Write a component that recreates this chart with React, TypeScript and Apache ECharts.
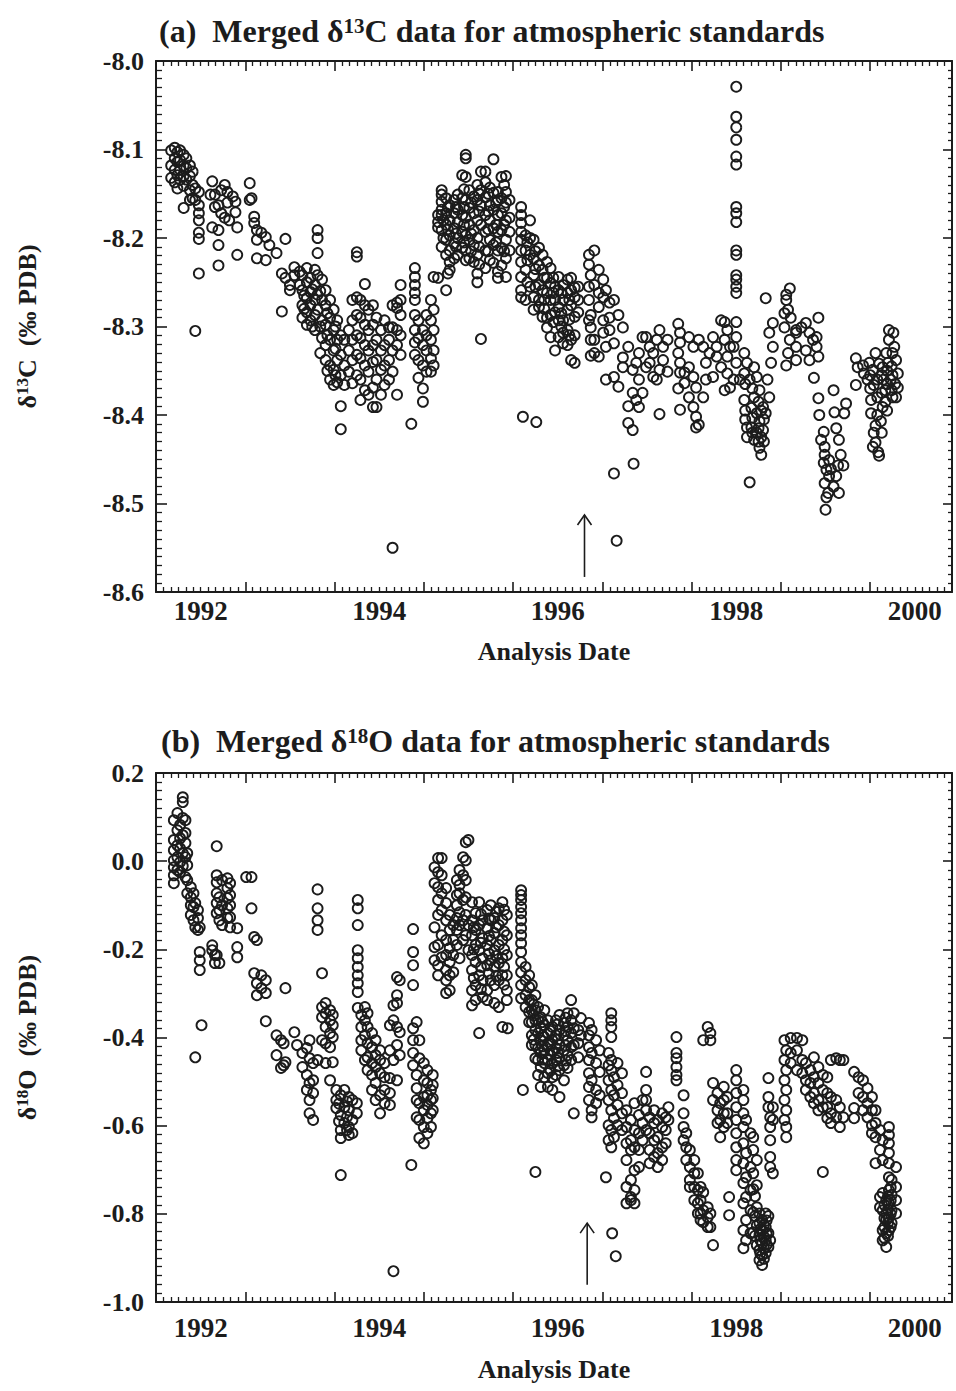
import { useEffect, useRef } from 'react';
import * as echarts from 'echarts';

// Each column: [analysis date (decimal year), measured values at that date]
type Column = [number, number[]];

// ---- (a) merged δ13C (‰ PDB) ----
const c13_1992: Column[] = [
  [1992.17, [-8.101, -8.118, -8.132]],
  [1992.21, [-8.098, -8.110, -8.123, -8.137]],
  [1992.24, [-8.103, -8.114, -8.129, -8.144]],
  [1992.27, [-8.101, -8.112, -8.123, -8.134]],
  [1992.31, [-8.106, -8.118, -8.130, -8.141, -8.166]],
  [1992.34, [-8.110, -8.121, -8.134]],
  [1992.38, [-8.118, -8.130, -8.146, -8.157]],
  [1992.41, [-8.125, -8.140, -8.155]],
  [1992.44, [-8.144, -8.157, -8.305]],
  [1992.48, [-8.148, -8.163, -8.172, -8.180, -8.194, -8.201, -8.240]],
  [1992.61, [-8.151]],
  [1992.63, [-8.136, -8.188]],
  [1992.66, [-8.151, -8.165]],
  [1992.70, [-8.163, -8.191, -8.208, -8.231]],
  [1992.73, [-8.146, -8.172]],
  [1992.77, [-8.140, -8.177]],
  [1992.80, [-8.148, -8.160]],
  [1992.82, [-8.180]],
  [1992.86, [-8.153]],
  [1992.89, [-8.159, -8.171]],
  [1992.91, [-8.188, -8.219]],
];
const c13_1993: Column[] = [
  [1993.05, [-8.138, -8.157]],
  [1993.07, [-8.155]],
  [1993.10, [-8.176, -8.183]],
  [1993.13, [-8.191, -8.202, -8.223]],
  [1993.18, [-8.194]],
  [1993.23, [-8.199, -8.225]],
  [1993.27, [-8.208]],
  [1993.35, [-8.217]],
  [1993.41, [-8.240, -8.283]],
  [1993.45, [-8.201, -8.245]],
  [1993.50, [-8.253, -8.259]],
  [1993.55, [-8.233, -8.242]],
  [1993.61, [-8.238, -8.253]],
  [1993.64, [-8.242, -8.259, -8.276, -8.290]],
  [1993.66, [-8.265, -8.280]],
  [1993.69, [-8.234, -8.250, -8.268, -8.284, -8.298]],
  [1993.73, [-8.245, -8.261, -8.276, -8.293]],
  [1993.75, [-8.258, -8.300]],
  [1993.78, [-8.236, -8.253, -8.270, -8.287, -8.304]],
  [1993.81, [-8.191, -8.200, -8.217, -8.242, -8.264, -8.281]],
  [1993.84, [-8.260, -8.300, -8.330]],
  [1993.86, [-8.247, -8.270, -8.293, -8.313]],
  [1993.90, [-8.259, -8.276, -8.298, -8.321, -8.338]],
  [1993.92, [-8.285, -8.310, -8.350]],
  [1993.95, [-8.270, -8.290, -8.315, -8.344, -8.360]],
  [1993.99, [-8.281, -8.304, -8.327, -8.349, -8.366]],
];
const c13_1994: Column[] = [
  [1994.01, [-8.300, -8.325, -8.355]],
  [1994.03, [-8.293, -8.315, -8.338, -8.363]],
  [1994.07, [-8.310, -8.332, -8.355, -8.390, -8.416]],
  [1994.11, [-8.315, -8.344, -8.366]],
  [1994.16, [-8.304, -8.327, -8.351]],
  [1994.20, [-8.270, -8.293, -8.315, -8.338, -8.364]],
  [1994.25, [-8.216, -8.221, -8.267, -8.287, -8.310, -8.332, -8.355]],
  [1994.29, [-8.270, -8.290, -8.313, -8.336, -8.360, -8.383]],
  [1994.34, [-8.252, -8.276, -8.298, -8.321, -8.344, -8.372]],
  [1994.38, [-8.281, -8.304, -8.327, -8.351, -8.377]],
  [1994.43, [-8.276, -8.298, -8.321, -8.340, -8.369, -8.391]],
  [1994.47, [-8.290, -8.315, -8.338, -8.360, -8.391]],
  [1994.52, [-8.304, -8.327, -8.349, -8.377]],
  [1994.56, [-8.293, -8.321, -8.344, -8.366]],
  [1994.61, [-8.301, -8.315, -8.338, -8.360]],
  [1994.65, [-8.276, -8.301, -8.327, -8.351, -8.550]],
  [1994.70, [-8.273, -8.279, -8.304, -8.321, -8.377]],
  [1994.74, [-8.253, -8.270, -8.287, -8.310, -8.332]],
  [1994.86, [-8.410]],
  [1994.90, [-8.234, -8.244, -8.253, -8.262, -8.270, -8.287, -8.304, -8.318, -8.332]],
  [1994.94, [-8.293, -8.313, -8.338, -8.358]],
  [1994.99, [-8.304, -8.321, -8.344, -8.370, -8.385]],
];
const c13_1995: Column[] = [
  [1995.03, [-8.287, -8.310, -8.327, -8.351]],
  [1995.08, [-8.270, -8.293, -8.315, -8.336, -8.351]],
  [1995.11, [-8.244, -8.281, -8.304, -8.327, -8.344]],
  [1995.16, [-8.174, -8.182, -8.188, -8.245]],
  [1995.20, [-8.146, -8.151, -8.159, -8.168, -8.174, -8.191, -8.210]],
  [1995.22, [-8.180, -8.200]],
  [1995.25, [-8.155, -8.172, -8.185, -8.202, -8.219, -8.259]],
  [1995.27, [-8.165, -8.190, -8.240]],
  [1995.29, [-8.163, -8.180, -8.197, -8.214, -8.227, -8.236]],
  [1995.34, [-8.157, -8.172, -8.189, -8.206, -8.223]],
  [1995.36, [-8.165, -8.195, -8.210]],
  [1995.38, [-8.151, -8.168, -8.182, -8.200, -8.219]],
  [1995.43, [-8.129, -8.155, -8.174, -8.193, -8.211]],
  [1995.45, [-8.145, -8.165, -8.185, -8.205]],
  [1995.47, [-8.106, -8.110, -8.131, -8.157, -8.177, -8.197, -8.214, -8.225]],
  [1995.51, [-8.146, -8.166, -8.185, -8.202, -8.223]],
  [1995.53, [-8.160, -8.195, -8.215]],
  [1995.56, [-8.153, -8.172, -8.191, -8.208, -8.227]],
  [1995.60, [-8.140, -8.157, -8.180, -8.200, -8.219, -8.240, -8.250]],
  [1995.62, [-8.150, -8.170, -8.210, -8.230]],
  [1995.64, [-8.125, -8.146, -8.163, -8.185, -8.314]],
  [1995.69, [-8.125, -8.137, -8.154, -8.174, -8.193, -8.214, -8.234]],
  [1995.72, [-8.150, -8.170, -8.190, -8.215]],
  [1995.74, [-8.143, -8.163, -8.180, -8.202, -8.225]],
  [1995.78, [-8.111, -8.149, -8.168, -8.189, -8.208, -8.228]],
  [1995.81, [-8.160, -8.185, -8.205]],
  [1995.83, [-8.148, -8.157, -8.174, -8.193, -8.214, -8.238, -8.245]],
  [1995.87, [-8.131, -8.155, -8.172, -8.191, -8.211, -8.231]],
  [1995.90, [-8.140, -8.165, -8.185, -8.215]],
  [1995.92, [-8.130, -8.148, -8.160, -8.180, -8.202, -8.223, -8.244]],
  [1995.96, [-8.157, -8.177, -8.193, -8.214]],
];
const c13_1996: Column[] = [
  [1996.09, [-8.165, -8.174, -8.183, -8.193, -8.202, -8.214, -8.227, -8.244, -8.259, -8.267]],
  [1996.11, [-8.402]],
  [1996.14, [-8.197, -8.214, -8.236, -8.270]],
  [1996.16, [-8.205, -8.225, -8.250]],
  [1996.19, [-8.180, -8.200, -8.219, -8.255]],
  [1996.23, [-8.202, -8.223, -8.242, -8.267, -8.281]],
  [1996.25, [-8.215, -8.235, -8.255]],
  [1996.26, [-8.408]],
  [1996.29, [-8.211, -8.231, -8.253, -8.270, -8.278]],
  [1996.33, [-8.219, -8.236, -8.259, -8.289]],
  [1996.35, [-8.245, -8.270, -8.280]],
  [1996.38, [-8.227, -8.245, -8.262, -8.290, -8.301]],
  [1996.42, [-8.234, -8.251, -8.270, -8.287, -8.312]],
  [1996.45, [-8.245, -8.262, -8.295]],
  [1996.47, [-8.255, -8.270, -8.284, -8.327]],
  [1996.51, [-8.244, -8.259, -8.278, -8.293, -8.312]],
  [1996.54, [-8.262, -8.285, -8.300]],
  [1996.56, [-8.253, -8.270, -8.293, -8.307, -8.319]],
  [1996.61, [-8.247, -8.262, -8.281, -8.304, -8.321]],
  [1996.63, [-8.270, -8.292, -8.310]],
  [1996.65, [-8.245, -8.259, -8.276, -8.315, -8.338]],
  [1996.69, [-8.256, -8.267, -8.289, -8.310, -8.341]],
  [1996.73, [-8.255, -8.270, -8.284]],
  [1996.85, [-8.219, -8.230, -8.255, -8.270, -8.293]],
  [1996.87, [-8.242, -8.287, -8.301, -8.315, -8.333]],
  [1996.91, [-8.214, -8.253, -8.315, -8.330]],
  [1996.96, [-8.236, -8.262, -8.278, -8.334]],
];
const c13_1997: Column[] = [
  [1997.01, [-8.247, -8.267, -8.293, -8.307]],
  [1997.04, [-8.259, -8.323, -8.360]],
  [1997.08, [-8.273, -8.290, -8.304]],
  [1997.13, [-8.270, -8.319, -8.357, -8.466]],
  [1997.16, [-8.542]],
  [1997.18, [-8.287, -8.368]],
  [1997.23, [-8.301, -8.335, -8.346]],
  [1997.29, [-8.323, -8.390, -8.409]],
  [1997.34, [-8.349, -8.375, -8.417]],
  [1997.35, [-8.455]],
  [1997.38, [-8.341, -8.383]],
  [1997.41, [-8.330, -8.360, -8.391]],
  [1997.45, [-8.312, -8.375]],
  [1997.49, [-8.312, -8.346]],
  [1997.53, [-8.323, -8.341]],
  [1997.57, [-8.330, -8.357]],
  [1997.61, [-8.315, -8.360]],
  [1997.64, [-8.304, -8.349, -8.399]],
  [1997.68, [-8.323, -8.338]],
  [1997.73, [-8.351, -8.315]],
  [1997.85, [-8.297, -8.330, -8.370]],
  [1997.87, [-8.307, -8.318, -8.341, -8.352, -8.394]],
  [1997.92, [-8.352, -8.364]],
  [1997.97, [-8.312, -8.346, -8.380]],
];
const c13_1998: Column[] = [
  [1998.02, [-8.323, -8.357, -8.391]],
  [1998.05, [-8.369, -8.402, -8.414]],
  [1998.08, [-8.315, -8.411]],
  [1998.13, [-8.323, -8.380]],
  [1998.16, [-8.341, -8.360]],
  [1998.20, [-8.330]],
  [1998.24, [-8.312, -8.357]],
  [1998.28, [-8.323, -8.334]],
  [1998.33, [-8.293, -8.346]],
  [1998.37, [-8.295, -8.315, -8.372]],
  [1998.40, [-8.304, -8.334, -8.353]],
  [1998.43, [-8.323, -8.369]],
  [1998.47, [-8.323, -8.360]],
  [1998.50, [-8.029, -8.063, -8.075, -8.089, -8.108, -8.117, -8.165, -8.172, -8.182, -8.214, -8.219, -8.242, -8.247, -8.255, -8.262, -8.295, -8.312, -8.341]],
  [1998.54, [-8.360]],
  [1998.59, [-8.330, -8.353, -8.383]],
  [1998.60, [-8.365, -8.395, -8.405]],
  [1998.62, [-8.341, -8.414, -8.425]],
  [1998.65, [-8.360, -8.476]],
  [1998.67, [-8.414, -8.392]],
  [1998.68, [-8.370, -8.403, -8.420]],
  [1998.70, [-8.346, -8.380, -8.428]],
  [1998.73, [-8.357, -8.398, -8.420]],
  [1998.75, [-8.385, -8.415, -8.430]],
  [1998.76, [-8.372, -8.407, -8.437]],
  [1998.78, [-8.425, -8.445, -8.395]],
  [1998.80, [-8.391, -8.417]],
  [1998.81, [-8.405, -8.430]],
  [1998.83, [-8.268, -8.398]],
  [1998.85, [-8.360]],
  [1998.87, [-8.307, -8.380]],
  [1998.89, [-8.341]],
  [1998.91, [-8.296, -8.323]],
];
const c13_1999: Column[] = [
  [1999.04, [-8.285, -8.301]],
  [1999.06, [-8.264, -8.270, -8.344]],
  [1999.08, [-8.281, -8.330]],
  [1999.10, [-8.257, -8.315]],
  [1999.11, [-8.290]],
  [1999.17, [-8.304, -8.307, -8.323, -8.338]],
  [1999.23, [-8.301]],
  [1999.28, [-8.296, -8.327]],
  [1999.32, [-8.307, -8.338]],
  [1999.36, [-8.315]],
  [1999.37, [-8.358]],
  [1999.40, [-8.312, -8.323]],
  [1999.42, [-8.290, -8.334, -8.381]],
  [1999.43, [-8.400]],
  [1999.45, [-8.428]],
  [1999.48, [-8.419, -8.454]],
  [1999.49, [-8.445, -8.477, -8.436]],
  [1999.50, [-8.507]],
  [1999.51, [-8.462, -8.493]],
  [1999.53, [-8.488]],
  [1999.54, [-8.469, -8.451]],
  [1999.56, [-8.461]],
  [1999.59, [-8.372, -8.481]],
  [1999.60, [-8.397]],
  [1999.62, [-8.415, -8.469]],
  [1999.64, [-8.457]],
  [1999.65, [-8.428, -8.488]],
  [1999.67, [-8.445]],
  [1999.70, [-8.457]],
  [1999.71, [-8.398]],
  [1999.73, [-8.387]],
  [1999.84, [-8.336, -8.366]],
  [1999.86, [-8.346]],
  [1999.92, [-8.344]],
  [1999.93, [-8.353]],
  [1999.97, [-8.360]],
  [1999.99, [-8.341]],
];
const c13_2000: Column[] = [
  [2000.00, [-8.355, -8.370]],
  [2000.01, [-8.383, -8.398]],
  [2000.03, [-8.349, -8.436]],
  [2000.04, [-8.366, -8.420]],
  [2000.06, [-8.431, -8.412, -8.330]],
  [2000.08, [-8.360, -8.380, -8.400]],
  [2000.09, [-8.442]],
  [2000.10, [-8.446, -8.342]],
  [2000.12, [-8.407]],
  [2000.13, [-8.355, -8.375, -8.420]],
  [2000.14, [-8.391, -8.346]],
  [2000.15, [-8.360]],
  [2000.17, [-8.372, -8.385]],
  [2000.18, [-8.330]],
  [2000.19, [-8.350, -8.365, -8.395]],
  [2000.20, [-8.341]],
  [2000.21, [-8.315, -8.304]],
  [2000.23, [-8.360]],
  [2000.24, [-8.345, -8.372]],
  [2000.25, [-8.330, -8.355, -8.380]],
  [2000.26, [-8.307]],
  [2000.27, [-8.323]],
  [2000.28, [-8.365]],
  [2000.29, [-8.338, -8.380]],
  [2000.31, [-8.353, -8.369]],
];

// ---- (b) merged δ18O (‰ PDB) ----
const o18_1992: Column[] = [
  [1992.20, [0.093, 0.048, 0.025, 0.002, -0.014, -0.032, -0.050]],
  [1992.24, [0.109, 0.070, 0.036, 0.009, -0.020]],
  [1992.27, [0.082, 0.052, 0.029, -0.002, -0.025]],
  [1992.30, [0.145, 0.134, 0.098, 0.059, 0.018, -0.011]],
  [1992.33, [0.093, 0.064, 0.041, 0.009, -0.036]],
  [1992.35, [0.018, -0.009, -0.043, -0.073]],
  [1992.39, [-0.059, -0.082, -0.100, -0.122]],
  [1992.42, [-0.073, -0.104, -0.134]],
  [1992.44, [-0.445, -0.095, -0.150]],
  [1992.47, [-0.111, -0.129, -0.156]],
  [1992.49, [-0.206, -0.225, -0.247, -0.150]],
  [1992.51, [-0.372]],
  [1992.63, [-0.191, -0.202]],
  [1992.66, [-0.213, -0.231]],
  [1992.68, [0.034, -0.032, -0.048, -0.073, -0.095, -0.118, -0.213]],
  [1992.71, [-0.082, -0.111, -0.134, -0.231]],
  [1992.74, [-0.043, -0.100, -0.145]],
  [1992.80, [-0.039, -0.061, -0.084, -0.107, -0.129]],
  [1992.83, [-0.050, -0.077, -0.100, -0.127, -0.150]],
  [1992.91, [-0.152, -0.195, -0.218]],
];
const o18_1993: Column[] = [
  [1993.01, [-0.036]],
  [1993.07, [-0.036, -0.107]],
  [1993.10, [-0.172, -0.254]],
  [1993.13, [-0.179, -0.277, -0.304]],
  [1993.18, [-0.259, -0.288]],
  [1993.23, [-0.270, -0.299, -0.363]],
  [1993.35, [-0.395, -0.440]],
  [1993.40, [-0.406, -0.469]],
  [1993.43, [-0.413, -0.463]],
  [1993.45, [-0.288, -0.456]],
  [1993.55, [-0.388]],
  [1993.58, [-0.417]],
  [1993.64, [-0.435, -0.467]],
  [1993.69, [-0.424, -0.485, -0.519]],
  [1993.72, [-0.406, -0.447, -0.503, -0.542, -0.572]],
  [1993.76, [-0.458, -0.497, -0.526, -0.587]],
  [1993.81, [-0.064, -0.107, -0.134, -0.156, -0.451]],
  [1993.86, [-0.254, -0.331, -0.354, -0.406]],
  [1993.90, [-0.322, -0.345, -0.376, -0.413, -0.458]],
  [1993.95, [-0.338, -0.361, -0.390, -0.422, -0.497]],
  [1993.98, [-0.349, -0.372, -0.399, -0.456]],
];
const o18_1994: Column[] = [
  [1994.02, [-0.519, -0.542, -0.560]],
  [1994.05, [-0.550, -0.590]],
  [1994.07, [-0.531, -0.576, -0.610, -0.628, -0.712]],
  [1994.11, [-0.519, -0.558, -0.594]],
  [1994.14, [-0.545, -0.580, -0.610]],
  [1994.16, [-0.535, -0.565, -0.603, -0.621]],
  [1994.20, [-0.542, -0.587, -0.617]],
  [1994.25, [-0.549, -0.572]],
  [1994.26, [-0.088, -0.107, -0.145, -0.202, -0.220, -0.240, -0.259, -0.277, -0.297, -0.333]],
  [1994.30, [-0.349, -0.376, -0.406, -0.429]],
  [1994.34, [-0.331, -0.361, -0.395, -0.451]],
  [1994.37, [-0.345, -0.376, -0.413, -0.445, -0.474]],
  [1994.42, [-0.390, -0.422, -0.458, -0.485, -0.519]],
  [1994.46, [-0.406, -0.440, -0.467, -0.503, -0.542]],
  [1994.51, [-0.429, -0.451, -0.481, -0.531, -0.572]],
  [1994.56, [-0.458, -0.490, -0.519, -0.549]],
  [1994.62, [-0.372, -0.429, -0.492, -0.526, -0.553]],
  [1994.66, [-0.327, -0.361, -0.451, -0.930]],
  [1994.70, [-0.263, -0.304, -0.322, -0.376, -0.417, -0.497]],
  [1994.73, [-0.270, -0.388, -0.440]],
  [1994.86, [-0.689]],
  [1994.88, [-0.154, -0.206, -0.236, -0.281, -0.379, -0.406, -0.435, -0.463]],
  [1994.92, [-0.365, -0.485, -0.515, -0.542, -0.581]],
  [1994.95, [-0.406, -0.447, -0.549, -0.587, -0.628]],
];
const o18_1995: Column[] = [
  [1995.00, [-0.458, -0.497, -0.535, -0.565, -0.603, -0.640]],
  [1995.04, [-0.474, -0.503, -0.531, -0.553, -0.583, -0.617]],
  [1995.08, [-0.519, -0.542, -0.572, -0.603]],
  [1995.10, [-0.485, -0.508, -0.538, -0.565]],
  [1995.12, [-0.014, -0.050, -0.150, -0.195, -0.225]],
  [1995.16, [0.007, -0.025, -0.059, -0.088, -0.122, -0.190, -0.236, -0.259]],
  [1995.20, [0.007, -0.032, -0.073, -0.111, -0.168, -0.218]],
  [1995.25, [-0.061, -0.095, -0.134, -0.179, -0.213, -0.247, -0.270, -0.299]],
  [1995.29, [-0.122, -0.156, -0.197, -0.229, -0.259, -0.293]],
  [1995.33, [-0.145, -0.179, -0.213, -0.252]],
  [1995.37, [-0.043, -0.077, -0.100, -0.129, -0.156, -0.190]],
  [1995.40, [-0.020, -0.054, -0.073, -0.116, -0.145, -0.220]],
  [1995.44, [0.009, -0.032, -0.088, -0.134, -0.179]],
  [1995.47, [0.043, 0.002, -0.043, -0.082, -0.122, -0.168]],
  [1995.50, [0.048, -0.145, -0.202]],
  [1995.54, [-0.093, -0.134, -0.168, -0.213, -0.247, -0.293, -0.327]],
  [1995.56, [-0.150, -0.200, -0.265]],
  [1995.58, [-0.118, -0.156, -0.190, -0.229, -0.281, -0.315]],
  [1995.62, [-0.093, -0.145, -0.202, -0.259, -0.390]],
  [1995.64, [-0.120, -0.185, -0.240, -0.290]],
  [1995.66, [-0.134, -0.175, -0.220, -0.270, -0.308]],
  [1995.71, [-0.111, -0.152, -0.190, -0.236, -0.293, -0.315]],
  [1995.73, [-0.130, -0.170, -0.210, -0.255]],
  [1995.75, [-0.100, -0.134, -0.179, -0.225, -0.270]],
  [1995.79, [-0.129, -0.163, -0.202, -0.240, -0.281, -0.322]],
  [1995.81, [-0.115, -0.150, -0.215, -0.260]],
  [1995.84, [-0.107, -0.145, -0.190, -0.231, -0.270, -0.331]],
  [1995.88, [-0.093, -0.134, -0.179, -0.220, -0.259, -0.376]],
  [1995.90, [-0.110, -0.160, -0.200, -0.240, -0.280]],
  [1995.93, [-0.122, -0.168, -0.213, -0.259, -0.293, -0.315]],
  [1995.94, [-0.379]],
];
const o18_1996: Column[] = [
  [1996.09, [-0.066, -0.077, -0.088, -0.104, -0.118, -0.134, -0.152, -0.168, -0.186, -0.206, -0.229, -0.252, -0.281, -0.311]],
  [1996.11, [-0.519]],
  [1996.14, [-0.240, -0.270, -0.304, -0.331]],
  [1996.18, [-0.259, -0.286, -0.315, -0.342, -0.365]],
  [1996.21, [-0.281, -0.315, -0.338, -0.365, -0.395, -0.417]],
  [1996.23, [-0.325, -0.350, -0.405]],
  [1996.25, [-0.304, -0.338, -0.361, -0.383, -0.417, -0.447, -0.705]],
  [1996.28, [-0.331, -0.361, -0.390, -0.424, -0.451, -0.485]],
  [1996.31, [-0.354, -0.379, -0.406, -0.435, -0.467, -0.512]],
  [1996.33, [-0.365, -0.395, -0.420, -0.450]],
  [1996.35, [-0.338, -0.372, -0.399, -0.429, -0.458, -0.490]],
  [1996.39, [-0.361, -0.390, -0.417, -0.451, -0.481, -0.512]],
  [1996.42, [-0.385, -0.415, -0.440, -0.475]],
  [1996.44, [-0.376, -0.406, -0.429, -0.458, -0.490, -0.519]],
  [1996.48, [-0.361, -0.395, -0.424, -0.451, -0.485]],
  [1996.50, [-0.370, -0.405, -0.435, -0.465]],
  [1996.52, [-0.349, -0.383, -0.417, -0.447, -0.474, -0.535]],
  [1996.57, [-0.367, -0.395, -0.429, -0.463, -0.497]],
  [1996.59, [-0.355, -0.385, -0.418, -0.452]],
  [1996.61, [-0.345, -0.376, -0.406, -0.440, -0.469]],
  [1996.65, [-0.315, -0.361, -0.390, -0.422, -0.451]],
  [1996.68, [-0.345, -0.379, -0.417, -0.572]],
  [1996.73, [-0.383, -0.413, -0.445]],
  [1996.76, [-0.356, -0.395]],
  [1996.85, [-0.367, -0.395, -0.422, -0.451, -0.481, -0.512, -0.542]],
  [1996.88, [-0.383, -0.435, -0.497, -0.565, -0.581]],
  [1996.93, [-0.406, -0.458, -0.519, -0.549]],
  [1996.97, [-0.429, -0.478, -0.531]],
];
const o18_1997: Column[] = [
  [1997.04, [-0.717]],
  [1997.07, [-0.435, -0.463, -0.497, -0.542, -0.599, -0.633]],
  [1997.10, [-0.345, -0.361, -0.376, -0.399, -0.451, -0.474, -0.519, -0.565, -0.610, -0.649]],
  [1997.11, [-0.844]],
  [1997.13, [-0.490, -0.531, -0.583, -0.626]],
  [1997.15, [-0.896]],
  [1997.17, [-0.458, -0.508, -0.553, -0.599]],
  [1997.22, [-0.481, -0.526, -0.572, -0.610]],
  [1997.27, [-0.565, -0.603, -0.640, -0.678, -0.739, -0.776]],
  [1997.32, [-0.587, -0.633, -0.655, -0.723, -0.762, -0.769]],
  [1997.36, [-0.549, -0.610, -0.649, -0.701, -0.746, -0.776]],
  [1997.41, [-0.576, -0.617, -0.655, -0.694]],
  [1997.45, [-0.542, -0.594, -0.633]],
  [1997.49, [-0.478, -0.519, -0.542, -0.565, -0.610]],
  [1997.53, [-0.581, -0.617, -0.655, -0.685]],
  [1997.58, [-0.565, -0.594, -0.633, -0.671]],
  [1997.62, [-0.587, -0.626, -0.662, -0.694]],
  [1997.67, [-0.572, -0.603, -0.649, -0.678]],
  [1997.71, [-0.581, -0.610, -0.640]],
  [1997.74, [-0.558, -0.587]],
  [1997.83, [-0.399, -0.435, -0.447, -0.467, -0.485, -0.497]],
  [1997.91, [-0.531, -0.572, -0.603, -0.633]],
  [1997.94, [-0.617, -0.649, -0.678]],
  [1997.98, [-0.655, -0.694, -0.723, -0.739]],
];
const o18_1998: Column[] = [
  [1998.03, [-0.678, -0.708, -0.739, -0.769]],
  [1998.07, [-0.708, -0.746, -0.776, -0.799]],
  [1998.10, [-0.739, -0.769, -0.799, -0.814]],
  [1998.13, [-0.406, -0.751, -0.792, -0.819]],
  [1998.18, [-0.376, -0.785, -0.808, -0.830]],
  [1998.21, [-0.390, -0.406, -0.799, -0.830]],
  [1998.24, [-0.503, -0.542, -0.871]],
  [1998.29, [-0.526, -0.565, -0.594]],
  [1998.32, [-0.549, -0.587, -0.626]],
  [1998.36, [-0.512, -0.542, -0.572, -0.603]],
  [1998.40, [-0.535, -0.572, -0.594]],
  [1998.42, [-0.762, -0.803]],
  [1998.50, [-0.474, -0.497, -0.526, -0.558, -0.587, -0.617, -0.649, -0.678, -0.701]],
  [1998.58, [-0.519, -0.542, -0.572, -0.603, -0.640, -0.685, -0.730, -0.776, -0.837, -0.878]],
  [1998.61, [-0.587, -0.662, -0.717, -0.762, -0.814, -0.860]],
  [1998.66, [-0.617, -0.694, -0.746, -0.792, -0.844]],
  [1998.69, [-0.626, -0.655, -0.708, -0.744, -0.797, -0.842]],
  [1998.71, [-0.760, -0.805, -0.850]],
  [1998.73, [-0.678, -0.735, -0.785, -0.826, -0.871]],
  [1998.76, [-0.799, -0.821, -0.848, -0.882, -0.905]],
  [1998.77, [-0.835, -0.860, -0.890]],
  [1998.79, [-0.814, -0.837, -0.867, -0.894, -0.916]],
  [1998.81, [-0.825, -0.852, -0.878, -0.902]],
  [1998.83, [-0.799, -0.830, -0.860, -0.889]],
  [1998.84, [-0.815, -0.845, -0.870]],
  [1998.86, [-0.492, -0.535, -0.558, -0.805, -0.844, -0.875]],
  [1998.88, [-0.581, -0.603, -0.633, -0.671, -0.694, -0.860]],
  [1998.91, [-0.558, -0.587, -0.708]],
];
const o18_1999: Column[] = [
  [1999.04, [-0.406, -0.451, -0.497, -0.542, -0.587]],
  [1999.06, [-0.429, -0.474, -0.519, -0.565, -0.603, -0.626]],
  [1999.11, [-0.401, -0.435, -0.458]],
  [1999.18, [-0.401, -0.429, -0.474]],
  [1999.24, [-0.406, -0.451, -0.481]],
  [1999.28, [-0.458, -0.497, -0.519]],
  [1999.33, [-0.474, -0.503, -0.535]],
  [1999.37, [-0.445, -0.490, -0.526, -0.549]],
  [1999.42, [-0.467, -0.503, -0.542, -0.565]],
  [1999.47, [-0.485, -0.519, -0.558, -0.705]],
  [1999.52, [-0.490, -0.526, -0.558, -0.583]],
  [1999.56, [-0.451, -0.535, -0.572, -0.594]],
  [1999.62, [-0.447, -0.542, -0.581]],
  [1999.66, [-0.451, -0.558, -0.603]],
  [1999.70, [-0.451, -0.581]],
  [1999.82, [-0.478, -0.560, -0.583]],
  [1999.87, [-0.490, -0.526]],
  [1999.92, [-0.497, -0.535, -0.565]],
  [1999.97, [-0.515, -0.549, -0.581]],
];
const o18_2000: Column[] = [
  [2000.02, [-0.535, -0.565, -0.599, -0.617]],
  [2000.06, [-0.565, -0.594, -0.626, -0.685]],
  [2000.11, [-0.610, -0.655, -0.762, -0.785]],
  [2000.14, [-0.633, -0.678, -0.753, -0.792, -0.837, -0.860]],
  [2000.16, [-0.780, -0.810, -0.830, -0.855]],
  [2000.18, [-0.769, -0.799, -0.814, -0.844, -0.875]],
  [2000.20, [-0.760, -0.790, -0.820, -0.850]],
  [2000.21, [-0.603, -0.621, -0.640, -0.662, -0.685, -0.717, -0.746, -0.776, -0.808, -0.837]],
  [2000.23, [-0.740, -0.770, -0.800, -0.830]],
  [2000.24, [-0.723, -0.757, -0.792, -0.821]],
  [2000.29, [-0.694, -0.739, -0.769, -0.799]],
];

// Arrows marking the change date: [date, tail value, tip value]
const arrowC13 = [1996.80, -8.583, -8.513];
const arrowO18 = [1996.83, -0.961, -0.821];

// Axis structure
const yearTicks = [1993, 1994, 1995, 1996, 1997, 1998, 1999, 2000];
const yearLabels = [1992, 1994, 1996, 1998, 2000];
const xMin = 1992;
const xMax = 2000 + 11 / 12;

const FONT = "'Liberation Serif', 'Times New Roman', serif";
const INK = '#1c1c1c';

const monthTicks: number[] = [];
for (let y = 1992; y <= 2000; y++) {
  for (let m = 1; m < 12; m++) {
    const v = y + m / 12;
    if (v < xMax - 1e-6) monthTicks.push(v);
  }
}

function flatten(groups: Column[][]): number[][] {
  const out: number[][] = [];
  for (const g of groups) for (const [x, ys] of g) for (const y of ys) out.push([x, y]);
  return out;
}

const richText = {
  t: { fontFamily: FONT, fontSize: 32, fontWeight: 'bold', color: INK },
  s: { fontFamily: FONT, fontSize: 21, fontWeight: 'bold', color: INK, verticalAlign: 'top' },
};
const richName = {
  t: { fontFamily: FONT, fontSize: 26, fontWeight: 'bold', color: INK },
  s: { fontFamily: FONT, fontSize: 17, fontWeight: 'bold', color: INK, verticalAlign: 'top' },
};

const axisLineStyle = { color: INK, width: 2 };

function xAxesFor(gridIndex: number, labelMargin: number, nameGap: number) {
  const base = { type: 'value', gridIndex, min: xMin, max: xMax, splitLine: { show: false } };
  return [
    {
      ...base,
      position: 'bottom',
      name: 'Analysis Date',
      nameLocation: 'middle',
      nameGap,
      nameTextStyle: { fontFamily: FONT, fontSize: 26, fontWeight: 'bold', color: INK },
      axisLine: { show: true, onZero: false, lineStyle: axisLineStyle },
      axisTick: { show: true, inside: true, length: 10, customValues: yearTicks, lineStyle: { color: INK, width: 1.6 } },
      axisLabel: {
        show: true,
        margin: labelMargin,
        customValues: yearLabels.map((y) => y + 0.5),
        formatter: (v: number) => String(Math.floor(v)),
        fontFamily: FONT,
        fontSize: 27,
        fontWeight: 'bold',
        color: INK,
      },
    },
    {
      ...base,
      position: 'bottom',
      axisLine: { show: false, onZero: false },
      axisTick: { show: true, inside: true, length: 5, customValues: monthTicks, lineStyle: { color: INK, width: 1.3 } },
      axisLabel: { show: false },
    },
    {
      ...base,
      position: 'top',
      axisLine: { show: true, onZero: false, lineStyle: axisLineStyle },
      axisTick: { show: true, inside: true, length: 10, customValues: yearTicks, lineStyle: { color: INK, width: 1.6 } },
      axisLabel: { show: false },
    },
    {
      ...base,
      position: 'top',
      axisLine: { show: false, onZero: false },
      axisTick: { show: true, inside: true, length: 5, customValues: monthTicks, lineStyle: { color: INK, width: 1.3 } },
      axisLabel: { show: false },
    },
  ];
}

function yAxesFor(gridIndex: number, min: number, max: number, interval: number, name: string) {
  const base = { type: 'value', gridIndex, min, max, interval, splitLine: { show: false } };
  return [
    {
      ...base,
      position: 'left',
      name,
      nameLocation: 'middle',
      nameRotate: 90,
      nameGap: 116,
      nameTextStyle: { rich: richName },
      axisLine: { show: true, onZero: false, lineStyle: axisLineStyle },
      axisTick: { show: true, inside: true, length: 11, lineStyle: { color: INK, width: 1.6 } },
      minorTick: { show: true, splitNumber: 10, length: 6, lineStyle: { color: INK, width: 1.3 } },
      axisLabel: {
        margin: 12,
        formatter: (v: number) => (Math.abs(v) < 1e-9 ? 0 : v).toFixed(1),
        fontFamily: FONT,
        fontSize: 26,
        fontWeight: 'bold',
        color: INK,
      },
    },
    {
      ...base,
      position: 'right',
      axisLine: { show: true, onZero: false, lineStyle: axisLineStyle },
      axisTick: { show: true, inside: true, length: 9, lineStyle: { color: INK, width: 1.6 } },
      minorTick: { show: true, splitNumber: 10, length: 4, lineStyle: { color: INK, width: 1.3 } },
      axisLabel: { show: false },
    },
  ];
}

function scatterSeries(xAxisIndex: number, yAxisIndex: number, data: number[][]) {
  return {
    type: 'scatter',
    xAxisIndex,
    yAxisIndex,
    data,
    symbol: 'circle',
    symbolSize: 10,
    silent: true,
    itemStyle: { color: 'rgba(0,0,0,0)', borderColor: INK, borderWidth: 1.9, opacity: 1 },
  };
}

function arrowSeries(xAxisIndex: number, yAxisIndex: number, arrow: number[]) {
  return {
    type: 'custom',
    xAxisIndex,
    yAxisIndex,
    silent: true,
    data: [arrow],
    encode: { x: 0, y: [1, 2] },
    renderItem: (_params: any, api: any) => {
      const tail = api.coord([api.value(0), api.value(1)]);
      const tip = api.coord([api.value(0), api.value(2)]);
      const style = { stroke: INK, lineWidth: 1.6, fill: 'none' };
      return {
        type: 'group',
        children: [
          { type: 'line', shape: { x1: tail[0], y1: tail[1], x2: tip[0], y2: tip[1] }, style },
          {
            type: 'polyline',
            shape: { points: [[tip[0] - 7, tip[1] + 10], [tip[0], tip[1]], [tip[0] + 7, tip[1] + 10]] },
            style,
          },
        ],
      };
    },
  };
}

export default function App() {
  const ref = useRef<HTMLDivElement>(null);

  useEffect(() => {
    document.body.style.margin = '0';
    if (!ref.current) return;
    const chart = echarts.init(ref.current, undefined, { renderer: 'svg' });

    const option = {
      animation: false,
      backgroundColor: '#ffffff',
      textStyle: { fontFamily: FONT },
      title: [
        {
          text: '{t|(a)  Merged δ}{s|13}{t|C data for atmospheric standards}',
          left: 154,
          top: 10,
          textStyle: { rich: richText },
        },
        {
          text: '{t|(b)  Merged δ}{s|18}{t|O data for atmospheric standards}',
          left: 156,
          top: 720,
          textStyle: { rich: richText },
        },
      ],
      grid: [
        { left: 156, top: 61, width: 796, height: 531 },
        { left: 156, top: 773, width: 796, height: 529 },
      ],
      xAxis: [...xAxesFor(0, 5, 46), ...xAxesFor(1, 12, 54)],
      yAxis: [
        ...yAxesFor(0, -8.6, -8.0, 0.1, '{t|δ}{s|13}{t|C  (‰ PDB)}'),
        ...yAxesFor(1, -1.0, 0.2, 0.2, '{t|δ}{s|18}{t|O  (‰ PDB)}'),
      ],
      series: [
        scatterSeries(0, 0, flatten([c13_1992, c13_1993, c13_1994, c13_1995, c13_1996, c13_1997, c13_1998, c13_1999, c13_2000])),
        arrowSeries(0, 0, arrowC13),
        scatterSeries(4, 2, flatten([o18_1992, o18_1993, o18_1994, o18_1995, o18_1996, o18_1997, o18_1998, o18_1999, o18_2000])),
        arrowSeries(4, 2, arrowO18),
      ],
    };

    chart.setOption(option as any);
    return () => chart.dispose();
  }, []);

  return <div ref={ref} style={{ width: 956, height: 1391 }} />;
}
